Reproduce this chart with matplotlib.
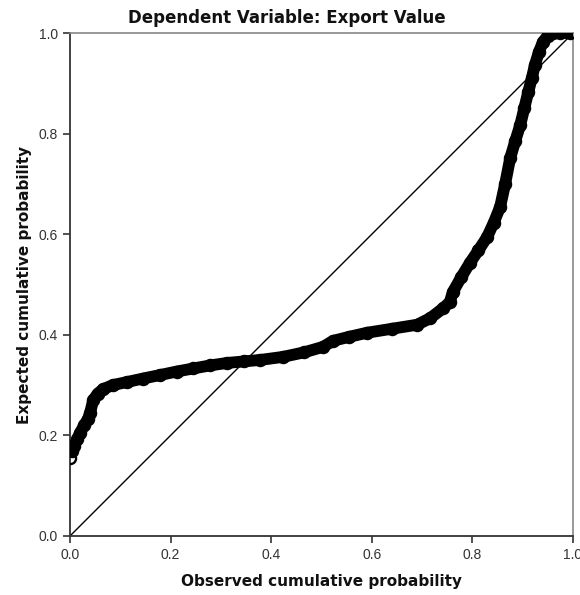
import matplotlib.pyplot as plt

# values
observed = [0.000, 0.004, 0.008, 0.014, 0.020, 0.028, 0.036, 0.040, 0.046,
            0.055, 0.066, 0.085, 0.113, 0.145, 0.179, 0.212, 0.245, 0.278,
            0.312, 0.345, 0.378, 0.423, 0.465, 0.503, 0.523, 0.555, 0.590,
            0.640, 0.690, 0.716, 0.742, 0.755, 0.761, 0.778, 0.795, 0.812,
            0.829, 0.842, 0.855, 0.865, 0.875, 0.885, 0.895, 0.903, 0.911,
            0.918, 0.924, 0.932, 0.940, 0.950, 0.960, 0.975, 0.994]
expected = [0.155, 0.168, 0.178, 0.192, 0.205, 0.220, 0.233, 0.245, 0.270,
            0.283, 0.292, 0.300, 0.306, 0.313, 0.320, 0.327, 0.333, 0.339,
            0.344, 0.347, 0.350, 0.356, 0.365, 0.376, 0.388, 0.396, 0.404,
            0.412, 0.420, 0.433, 0.453, 0.465, 0.485, 0.515, 0.543, 0.568,
            0.594, 0.622, 0.654, 0.700, 0.751, 0.785, 0.817, 0.850, 0.883,
            0.910, 0.936, 0.962, 0.982, 0.995, 1.000, 1.000, 1.000]
ticks = [0.0, 0.2, 0.4, 0.6, 0.8, 1.0]
tick_labels = ["0.0", "0.2", "0.4", "0.6", "0.8", "1.0"]

plt.rcParams['font.family'] = ['DejaVu Sans']

fig = plt.figure(figsize=(5.8, 5.95), dpi=100)
ax = fig.add_axes([0.1207, 0.0992, 0.8673, 0.8453])

# reference diagonal
ax.plot([0, 1], [0, 1], color="black", lw=1.0, zorder=2)

# points: thick dark band of overlapping open circles
ax.plot(observed[1:], expected[1:], color="black", lw=8.5,
        solid_capstyle="round", solid_joinstyle="round", zorder=3)
ax.plot(observed, expected, linestyle="none", marker="o", markersize=8,
        markerfacecolor="none", markeredgecolor="black",
        markeredgewidth=1.7, zorder=4)

ax.set_xlim(0, 1)
ax.set_ylim(0, 1)
ax.set_xticks(ticks)
ax.set_xticklabels(tick_labels)
ax.set_yticks(ticks)
ax.set_yticklabels(tick_labels)
ax.tick_params(direction="out", length=5, width=1.2, colors="#333333",
               labelsize=10, top=False, right=False)
for lab in ax.get_xticklabels() + ax.get_yticklabels():
    lab.set_family("Liberation Sans")

for side in ["left", "bottom"]:
    ax.spines[side].set_color("#333333")
    ax.spines[side].set_linewidth(1.3)
for side in ["top", "right"]:
    ax.spines[side].set_color("#888888")
    ax.spines[side].set_linewidth(1.2)

fig.text(0.495, 0.969, "Dependent Variable: Export Value", fontsize=12,
         fontweight="bold", color="#111111", ha="center", va="center")
ax.set_xlabel("Observed cumulative probability", fontsize=11,
              fontweight="bold", color="#111111", labelpad=9)
ax.set_ylabel("Expected cumulative probability", fontsize=11,
              fontweight="bold", color="#111111", labelpad=5)

fig.savefig("out.png", dpi=100)
